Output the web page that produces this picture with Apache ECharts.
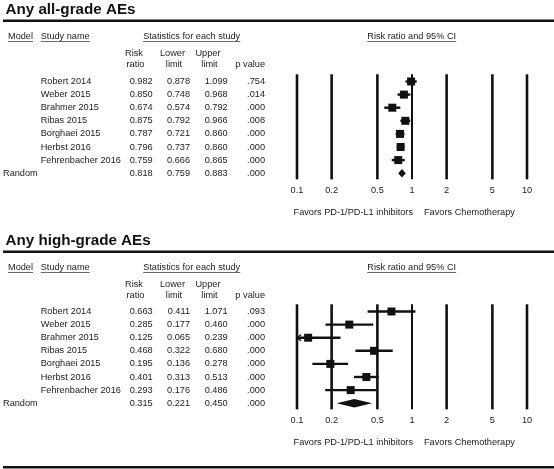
<!DOCTYPE html>
<html>
<head>
<meta charset="utf-8">
<script src="https://cdn.jsdelivr.net/npm/echarts@6/dist/echarts.min.js"></script>
<style>
html,body{margin:0;padding:0;background:#fff;}
#chart{width:554px;height:469px;}
</style>
</head>
<body>
<div id="chart"></div>
<script>
// ---------- data ----------
const panelTitles = ['Any all-grade AEs', 'Any high-grade AEs'];
const studies = ['Robert 2014', 'Weber 2015', 'Brahmer 2015', 'Ribas 2015', 'Borghaei 2015', 'Herbst 2016', 'Fehrenbacher 2016'];
const randomLabel = 'Random';

const allRR    = [0.982, 0.850, 0.674, 0.875, 0.787, 0.796, 0.759];
const allLower = [0.878, 0.748, 0.574, 0.792, 0.721, 0.737, 0.666];
const allUpper = [1.099, 0.968, 0.792, 0.966, 0.860, 0.860, 0.865];
const allP     = ['.754', '.014', '.000', '.008', '.000', '.000', '.000'];
const allRandom = [0.818, 0.759, 0.883];
const allRandomP = '.000';

const highRR    = [0.663, 0.285, 0.125, 0.468, 0.195, 0.401, 0.293];
const highLower = [0.411, 0.177, 0.065, 0.322, 0.136, 0.313, 0.176];
const highUpper = [1.071, 0.460, 0.239, 0.680, 0.278, 0.513, 0.486];
const highP     = ['.093', '.000', '.000', '.000', '.000', '.000', '.000'];
const highRandom = [0.315, 0.221, 0.450];
const highRandomP = '.000';

const tickValues = [0.1, 0.2, 0.5, 1, 2, 5, 10];
const tickLabels = ['0.1', '0.2', '0.5', '1', '2', '5', '10'];
const favorsLeft = 'Favors PD-1/PD-L1 inhibitors';
const favorsRight = 'Favors Chemotherapy';

const panels = [
  {rr: allRR, lo: allLower, hi: allUpper, p: allP, rand: allRandom, randP: allRandomP},
  {rr: highRR, lo: highLower, hi: highUpper, p: highP, rand: highRandom, randP: highRandomP}
];

// ---------- layout ----------
const FONT = '"Liberation Sans", Arial, sans-serif';
const FS = 9.2;
const TXT = '#222';
const rowStep = 13.1;
const firstRowY = 81.5;
const rowOffset = 230;     // vertical offset between the two panels (rows)
const headOffset = 231;    // vertical offset between the two panels (headers)
const colRR = 152.7, colLo = 190, colHi = 227.7, colP = 265;

const measureCtx = document.createElement('canvas').getContext('2d');
function textWidth(t, size, weight) {
  measureCtx.font = (weight || 'normal') + ' ' + size + 'px ' + FONT;
  return measureCtx.measureText(t).width;
}

const graphics = [];
function addText(t, x, y, align, opts) {
  opts = opts || {};
  const size = opts.size || FS;
  graphics.push({
    type: 'text', x: x, y: y, silent: true,
    style: {text: t, fill: opts.fill || TXT, fontSize: size, fontFamily: FONT,
            fontWeight: opts.weight || 'normal', align: align, verticalAlign: 'middle'}
  });
  if (opts.underline) {
    const w = textWidth(t, size, opts.weight);
    let x1 = x;
    if (align === 'center') x1 = x - w / 2;
    else if (align === 'right') x1 = x - w;
    graphics.push({type: 'line', silent: true,
      shape: {x1: x1, y1: y + 5, x2: x1 + w, y2: y + 5},
      style: {stroke: '#444', lineWidth: 0.8}});
  }
}

panelTitles.forEach(function (title, p) {
  const hb = p * headOffset;
  addText(title, 5.5, 9.8 + hb, 'left', {size: 15.2, weight: 'bold', fill: '#111'});
  graphics.push({type: 'line', silent: true,
    shape: {x1: 3, y1: 20.8 + hb, x2: 554, y2: 20.8 + hb},
    style: {stroke: '#111', lineWidth: 2.6}});
  addText('Model', 8, 36.5 + hb, 'left', {underline: true});
  addText('Study name', 40.7, 36.5 + hb, 'left', {underline: true});
  addText('Statistics for each study', 191.7, 36.5 + hb, 'center', {underline: true});
  addText('Risk ratio and 95% CI', 411.7, 36.5 + hb, 'center', {underline: true});
  addText('Risk', 134, 53.3 + hb, 'center');
  addText('ratio', 135.5, 64.3 + hb, 'center');
  addText('Lower', 172.5, 53.3 + hb, 'center');
  addText('limit', 174, 64.3 + hb, 'center');
  addText('Upper', 208, 53.3 + hb, 'center');
  addText('limit', 209.5, 64.3 + hb, 'center');
  addText('p value', colP, 64.3 + hb, 'right');
});
graphics.push({type: 'line', silent: true,
  shape: {x1: 3, y1: 467.3, x2: 554, y2: 467.3},
  style: {stroke: '#111', lineWidth: 2.6}});

// ---------- grids / axes ----------
const grids = [], xAxes = [], yAxes = [], series = [];
panels.forEach(function (d, p) {
  const top = firstRowY - rowStep + p * rowOffset;
  grids.push({left: 297, right: 27, top: top, height: rowStep * 9});
  xAxes.push({type: 'log', logBase: 10, min: 0.1, max: 10, gridIndex: p, show: false});
  yAxes.push({type: 'value', min: 0, max: 9, inverse: true, gridIndex: p, show: false});

  // reference lines, tick labels and "favors" captions
  series.push({
    type: 'custom', xAxisIndex: p, yAxisIndex: p, clip: false, silent: true,
    encode: {x: 0, y: 1},
    data: tickValues.map(function (v, i) { return [v, 0, i]; }),
    renderItem: function (params, api) {
      const v = api.value(0);
      const i = params.dataIndex;
      const a = api.coord([v, 0.45]);
      const b = api.coord([v, 8.47]);
      const l = api.coord([v, 9.34]);
      const children = [
        {type: 'line', shape: {x1: a[0], y1: a[1], x2: b[0], y2: b[1]},
         style: {stroke: '#111', lineWidth: v === 1 ? 2 : 2.6}},
        {type: 'text', style: {text: tickLabels[i], x: l[0], y: l[1], fill: TXT,
         fontSize: FS, fontFamily: FONT, align: 'center', verticalAlign: 'middle'}}
      ];
      if (v === 1) {
        const f = api.coord([v, 11.0]);
        children.push({type: 'text', style: {text: favorsLeft, x: f[0] + 1, y: f[1], fill: TXT,
          fontSize: FS, fontFamily: FONT, align: 'right', verticalAlign: 'middle'}});
        children.push({type: 'text', style: {text: favorsRight, x: f[0] + 12, y: f[1], fill: TXT,
          fontSize: FS, fontFamily: FONT, align: 'left', verticalAlign: 'middle'}});
      }
      return {type: 'group', children: children};
    }
  });

  // studies + random effect
  const rows = d.rr.map(function (v, i) { return [v, d.lo[i], d.hi[i], i + 1]; });
  rows.push([d.rand[0], d.rand[1], d.rand[2], d.rr.length + 1]);
  series.push({
    type: 'custom', xAxisIndex: p, yAxisIndex: p, clip: false, silent: true,
    encode: {x: [0, 1, 2], y: 3},
    data: rows,
    renderItem: function (params, api) {
      const i = params.dataIndex;
      const isRandom = i === d.rr.length;
      const rr = api.value(0), lo = api.value(1), hi = api.value(2), row = api.value(3);
      const c = api.coord([rr, row]);
      const y = c[1];
      const xMin = api.coord([0.1, row])[0];
      const xMax = api.coord([10, row])[0];
      let xl = api.coord([lo, row])[0];
      let xh = api.coord([hi, row])[0];
      const children = [];
      const txt = function (t, x, align) {
        return {type: 'text', style: {text: t, x: x, y: y, fill: TXT, fontSize: FS,
          fontFamily: FONT, align: align, verticalAlign: 'middle'}};
      };
      if (isRandom) {
        children.push({type: 'polygon', shape: {points: [[xl, y], [c[0], y - 4.3], [xh, y], [c[0], y + 4.3]]},
          style: {fill: '#111'}});
        children.push(txt(randomLabel, 3, 'left'));
        children.push(txt(d.randP, colP, 'right'));
      } else {
        const clippedLo = xl < xMin;
        if (clippedLo) xl = xMin;
        if (xh > xMax) xh = xMax;
        children.push({type: 'line', shape: {x1: xl, y1: y, x2: xh, y2: y},
          style: {stroke: '#111', lineWidth: 2.4}});
        if (clippedLo) {
          children.push({type: 'polyline', shape: {points: [[xl + 4, y - 3], [xl, y], [xl + 4, y + 3]]},
            style: {stroke: '#111', lineWidth: 1.4, fill: null}});
        }
        children.push({type: 'rect', shape: {x: c[0] - 4, y: y - 4, width: 8, height: 8},
          style: {fill: '#111'}});
        children.push(txt(studies[i], 40.7, 'left'));
        children.push(txt(d.p[i], colP, 'right'));
      }
      children.push(txt(rr.toFixed(3), colRR, 'right'));
      children.push(txt(lo.toFixed(3), colLo, 'right'));
      children.push(txt(hi.toFixed(3), colHi, 'right'));
      return {type: 'group', children: children};
    }
  });
});

const chart = echarts.init(document.getElementById('chart'), null, {renderer: 'canvas'});
chart.setOption({
  animation: false,
  backgroundColor: '#fff',
  grid: grids,
  xAxis: xAxes,
  yAxis: yAxes,
  series: series,
  graphic: graphics
});
</script>
</body>
</html>
